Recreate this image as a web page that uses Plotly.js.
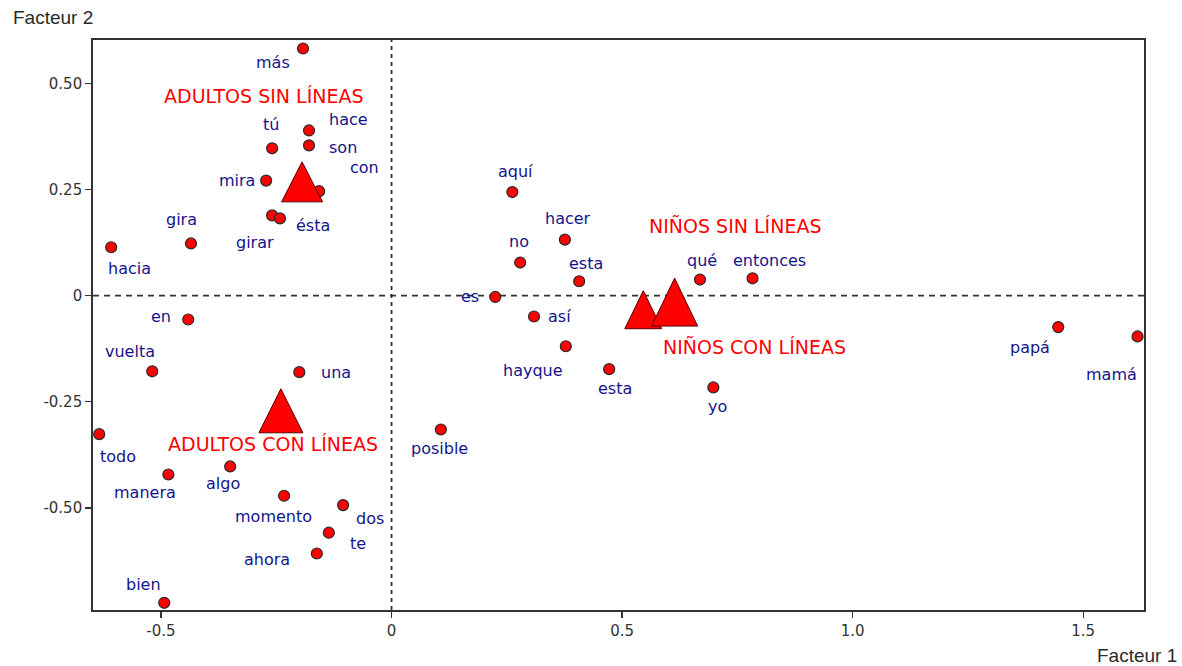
<!DOCTYPE html>
<html>
<head>
<meta charset="utf-8">
<script src="https://cdn.plot.ly/plotly-3.0.1.min.js"></script>
<style>
  html, body { margin: 0; padding: 0; background: #fff; }
  #chart { width: 1182px; height: 666px; }
</style>
</head>
<body>
<div id="chart"></div>
<script>
// Word coordinates on the first two factors
const words = ['más', 'tú', 'hace', 'son', 'con', 'mira', 'girar', 'ésta', 'gira', 'hacia',
  'en', 'vuelta', 'una', 'todo', 'manera', 'algo', 'momento', 'dos', 'te', 'ahora', 'bien',
  'aquí', 'hacer', 'no', 'esta', 'es', 'así', 'hayque', 'esta', 'qué', 'entonces', 'yo',
  'posible', 'papá', 'mamá'];
const factor1 = [-0.192, -0.259, -0.179, -0.179, -0.157, -0.272, -0.259, -0.242, -0.435, -0.608,
  -0.441, -0.519, -0.200, -0.634, -0.484, -0.350, -0.233, -0.105, -0.136, -0.162, -0.493,
  0.262, 0.376, 0.279, 0.407, 0.225, 0.309, 0.378, 0.472, 0.669, 0.783, 0.698,
  0.107, 1.446, 1.618];
const factor2 = [0.582, 0.347, 0.389, 0.354, 0.246, 0.271, 0.189, 0.182, 0.123, 0.114,
  -0.056, -0.178, -0.180, -0.326, -0.421, -0.402, -0.471, -0.493, -0.558, -0.607, -0.723,
  0.244, 0.132, 0.078, 0.034, -0.003, -0.049, -0.119, -0.173, 0.038, 0.041, -0.216,
  -0.315, -0.074, -0.096];

// Group centres
const groups = ['ADULTOS SIN LÍNEAS', 'NIÑOS CON LÍNEAS', 'NIÑOS SIN LÍNEAS', 'ADULTOS CON LÍNEAS'];
const groupF1 = [-0.194, 0.546, 0.614, -0.240];
const groupF2 = [0.268, -0.033, -0.015, -0.271];

// Axis ticks
const xTicks = [-0.5, 0, 0.5, 1.0, 1.5];
const xTickText = ['-0.5', '0', '0.5', '1.0', '1.5'];
const yTicks = [0.5, 0.25, 0, -0.25, -0.5];
const yTickText = ['0.50', '0.25', '0', '-0.25', '-0.50'];

// Label placement (pixel offsets: right, down) for each word
const wordLabelShift = [[-30, 14], [-1, -24], [39, -11], [34, 2], [45, -24], [-29, 0], [-17, 27],
  [33, 7], [-9, -24], [18, 21], [-27, -3], [-22, -20], [37, 0], [19, 22], [-23, 18], [-7, 17],
  [-11, 21], [27, 13], [29, 11], [-50, 6], [-21, -18], [3, -21], [3, -21], [-1, -21], [7, -18],
  [-25, 0], [25, 0], [-33, 24], [6, 19], [2, -19], [17, -18], [4, 19], [-1, 19], [-28, 20],
  [-26, 38]];
// Group label placement and triangle size in pixels
const groupLabelShift = [[-38, -86], [111, 37], [60, -76], [-8, 33]];
const triangleSize = [[41, 40], [37, 38], [46, 48], [44, 44]];

const wordColor = '#14148a';
const groupColor = '#ff0000';

const annotations = [];
words.forEach((w, i) => {
  annotations.push({
    x: factor1[i], y: factor2[i], xref: 'x', yref: 'y',
    text: w, showarrow: false,
    xanchor: 'center', yanchor: 'middle',
    xshift: wordLabelShift[i][0], yshift: -wordLabelShift[i][1],
    font: { family: 'DejaVu Sans, sans-serif', size: 16, color: wordColor }
  });
});
groups.forEach((g, i) => {
  annotations.push({
    x: groupF1[i], y: groupF2[i], xref: 'x', yref: 'y',
    text: g, showarrow: false,
    xanchor: 'center', yanchor: 'middle',
    xshift: groupLabelShift[i][0], yshift: -groupLabelShift[i][1],
    font: { family: 'DejaVu Sans, sans-serif', size: 19, color: groupColor }
  });
});
annotations.push({
  xref: 'paper', yref: 'paper', x: -0.078, y: 1.039, xanchor: 'left', yanchor: 'middle',
  text: 'Facteur 2', showarrow: false,
  font: { family: 'Liberation Sans, Arial, sans-serif', size: 19, color: '#2a2a2a' }
});
annotations.push({
  xref: 'paper', yref: 'paper', x: 1.0335, y: -0.079, xanchor: 'right', yanchor: 'middle',
  text: 'Facteur 1', showarrow: false,
  font: { family: 'Liberation Sans, Arial, sans-serif', size: 19, color: '#2a2a2a' }
});

// Dashed reference lines through the origin
const shapes = [
  { type: 'line', layer: 'below', xref: 'x', yref: 'paper', x0: 0, x1: 0, y0: 0, y1: 1,
    line: { color: '#333', width: 1.8, dash: '4px,4px' } },
  { type: 'line', layer: 'below', xref: 'paper', yref: 'y', x0: 0, x1: 1, y0: 0, y1: 0,
    line: { color: '#333', width: 1.8, dash: '6px,5px' } }
];
// Group triangles anchored at their centres
groups.forEach((g, i) => {
  const w = triangleSize[i][0] / 2, h = triangleSize[i][1] / 2;
  shapes.push({
    type: 'path', layer: 'above', xref: 'x', yref: 'y',
    xsizemode: 'pixel', ysizemode: 'pixel',
    xanchor: groupF1[i], yanchor: groupF2[i],
    path: `M ${-w} ${-h} L ${w} ${-h} L 0 ${h} Z`,
    fillcolor: '#ff0000',
    line: { color: '#5a0000', width: 1 }
  });
});

const traces = [{
  type: 'scatter', mode: 'markers',
  x: factor1, y: factor2, text: words,
  cliponaxis: false,
  marker: { size: 11, color: '#ff0000', line: { color: '#2a2a2a', width: 1.2 } },
  hoverinfo: 'text'
}];

const layout = {
  width: 1182, height: 666,
  margin: { l: 93, r: 38, t: 40, b: 56 },
  paper_bgcolor: '#fff', plot_bgcolor: '#fff',
  showlegend: false,
  xaxis: {
    range: [-0.6475, 1.632], showgrid: false, zeroline: false,
    showline: true, mirror: true, linecolor: '#333', linewidth: 1.8,
    ticks: 'outside', ticklen: 6, tickcolor: '#333', tickwidth: 1.2,
    tickvals: xTicks, ticktext: xTickText,
    tickfont: { family: 'DejaVu Sans, sans-serif', size: 15, color: '#333' }
  },
  yaxis: {
    range: [-0.740, 0.602], showgrid: false, zeroline: false,
    showline: true, mirror: true, linecolor: '#333', linewidth: 1.8,
    ticks: 'outside', ticklen: 6, tickcolor: '#333', tickwidth: 1.2,
    tickvals: yTicks, ticktext: yTickText,
    tickfont: { family: 'DejaVu Sans, sans-serif', size: 15, color: '#333' }
  },
  annotations: annotations,
  shapes: shapes
};

Plotly.newPlot('chart', traces, layout, { displayModeBar: false, staticPlot: true });
</script>
</body>
</html>
